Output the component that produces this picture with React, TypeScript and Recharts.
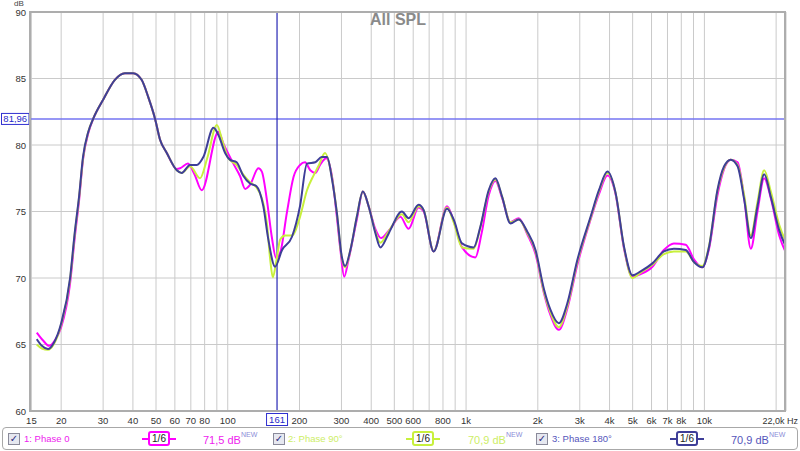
import React from "react";
import {
  CartesianGrid,
  Line,
  LineChart,
  ReferenceLine,
  XAxis,
  YAxis,
} from "recharts";

// [frequency Hz, SPL dB]
const phase0: [number, number][] = [
  [15.8, 65.9], [16.8, 65.3], [17.8, 64.9], [18.8, 65.3], [20, 66.3], [21.8, 69.6], [22.8, 73.0],
  [23.8, 75.9], [24.7, 78.9], [26, 80.9], [27.3, 82.0], [30, 83.4], [33.6, 84.9], [37, 85.4],
  [40.1, 85.4], [43.5, 84.9], [46.4, 83.6], [49.5, 82.0], [52, 80.4], [55.5, 79.4], [61.1, 78.2],
  [63.1, 78.25], [68.1, 78.6], [72.5, 77.8], [77.8, 76.6], [91.4, 81.0], [95.9, 80.1], [105.6, 78.6],
  [112.7, 77.65], [118.3, 76.7], [124, 77.0], [134.5, 78.25], [139, 78.0], [145.9, 75.9], [153, 73.1],
  [159.6, 71.5], [166, 71.9], [177, 74.9], [188.8, 77.6], [201, 78.5], [211, 78.7], [222, 78.1],
  [233, 77.9], [244, 78.5], [259, 79.0], [274, 77.6], [287, 74.6], [297, 72.1], [308, 70.1],
  [321, 71.35], [348, 74.4], [369, 76.5], [390, 75.4], [416, 73.7], [440, 73.0], [466, 73.4],
  [481, 73.7], [530, 74.6], [574, 73.7], [632, 75.3], [664, 75.0], [731, 72.0], [832, 75.4],
  [887, 74.3], [962, 72.3], [1094, 71.55], [1160, 73.3], [1244, 76.2], [1328, 77.3], [1417, 76.0],
  [1535, 74.2], [1664, 74.5], [1805, 73.3], [1956, 71.8], [2120, 68.9], [2261, 67.2], [2450, 66.1],
  [2660, 67.7], [2930, 71.0], [3330, 74.4], [3610, 76.3], [3920, 77.7], [4240, 76.3], [4600, 72.2],
  [4990, 70.1], [5400, 70.3], [6050, 70.85], [6760, 72.1], [7450, 72.6], [8350, 72.5], [9040, 71.4],
  [9810, 70.8], [10460, 72.2], [11340, 76.2], [12100, 78.2], [12900, 78.9], [13780, 78.7],
  [14690, 76.0], [15660, 72.2], [16700, 75.0], [17820, 77.5], [19000, 76.0], [20600, 73.2],
  [21980, 71.9],
];

const phase90: [number, number][] = [
  [15.8, 65.0], [16.6, 64.7], [17.6, 64.6], [18.6, 65.0], [20, 66.5], [21.8, 69.9], [22.8, 73.3],
  [23.8, 76.1], [24.7, 79.0], [26, 81.0], [27.3, 82.0], [30, 83.4], [33.6, 84.9], [37, 85.4],
  [40.1, 85.4], [43.5, 84.9], [46.4, 83.6], [49.5, 82.0], [52, 80.4], [55.5, 79.4], [61.1, 78.1],
  [64.1, 77.9], [69.5, 78.4], [76.5, 77.5], [82, 79.0], [90, 81.5], [95, 80.3], [100.6, 79.0],
  [109, 78.5], [116, 77.8], [124, 77.2], [132, 76.8], [141, 75.6], [146, 74.1], [150.5, 71.5],
  [154.6, 70.05], [160, 71.3], [166, 72.9], [174, 73.2], [186, 73.2], [201, 74.6], [215, 76.6],
  [229, 77.7], [240, 78.4], [256, 79.4], [274, 77.5], [287, 74.9], [301, 71.5], [311, 70.8],
  [327, 72.1], [348, 74.6], [369, 76.5], [390, 75.4], [416, 73.5], [437, 72.65], [466, 73.3],
  [481, 73.7], [538, 74.8], [574, 74.2], [632, 75.4], [664, 75.1], [731, 72.0], [832, 75.3],
  [887, 74.2], [962, 72.3], [1076, 72.2], [1148, 73.8], [1244, 76.5], [1328, 77.4], [1417, 76.1],
  [1535, 74.2], [1664, 74.4], [1805, 73.4], [1956, 72.0], [2120, 69.0], [2261, 67.4], [2450, 66.3],
  [2660, 67.9], [2930, 71.2], [3330, 74.5], [3610, 76.5], [3920, 77.9], [4240, 76.4], [4600, 72.3],
  [4990, 70.0], [5400, 70.4], [6050, 71.0], [6760, 71.8], [7450, 72.0], [8350, 72.0], [9040, 71.2],
  [9810, 70.9], [10460, 72.4], [11340, 76.5], [12100, 78.3], [12900, 78.9], [13780, 78.5],
  [14690, 76.2], [15660, 73.2], [16700, 75.7], [17820, 78.1], [19000, 76.5], [20600, 74.0],
  [21980, 72.7],
];

const phase180: [number, number][] = [
  [15.8, 65.4], [16.6, 64.9], [17.6, 64.66], [18.6, 65.1], [20, 66.6], [21.8, 70.0], [22.8, 73.4],
  [23.8, 76.2], [24.7, 79.1], [26, 81.0], [27.3, 82.0], [30, 83.4], [33.6, 84.9], [37, 85.4],
  [40.1, 85.4], [43.5, 84.9], [46.4, 83.6], [49.5, 82.0], [52, 80.4], [55.5, 79.4], [61.1, 78.1],
  [64.1, 77.9], [69.5, 78.5], [74.1, 78.5], [79, 79.1], [87.1, 81.3], [91.4, 80.75], [97.5, 79.4],
  [102, 78.9], [109, 78.7], [116, 77.7], [124, 77.1], [132, 76.9], [141, 75.4], [148, 72.9],
  [158, 70.85], [169, 72.1], [186, 73.1], [201, 75.4], [215, 78.6], [233, 78.7], [248, 79.1],
  [261, 79.1], [274, 77.4], [287, 74.9], [301, 71.6], [311, 70.9], [327, 72.1], [348, 74.6],
  [369, 76.5], [390, 75.4], [416, 73.4], [437, 72.3], [466, 73.1], [481, 73.6], [538, 75.0],
  [574, 74.5], [632, 75.5], [664, 75.1], [731, 72.0], [832, 75.2], [887, 74.4], [962, 72.6],
  [1076, 72.3], [1148, 73.85], [1244, 76.6], [1328, 77.5], [1417, 76.1], [1535, 74.1], [1664, 74.4],
  [1805, 73.5], [1956, 72.1], [2120, 69.2], [2261, 67.6], [2450, 66.6], [2660, 68.1], [2930, 71.35],
  [3330, 74.6], [3610, 76.6], [3920, 78.0], [4240, 76.4], [4600, 72.35], [4990, 70.2], [5400, 70.5],
  [6050, 71.1], [6760, 72.0], [7450, 72.2], [8350, 72.1], [9040, 71.2], [9810, 70.8], [10460, 72.35],
  [11340, 76.6], [12100, 78.4], [12900, 78.9], [13780, 78.4], [14690, 75.9], [15660, 73.0],
  [16700, 75.4], [17820, 77.8], [19000, 76.1], [20600, 73.6], [21980, 72.35],
];

const gridFreqs = [
  15, 20, 30, 40, 50, 60, 70, 80, 90, 100, 200, 300, 400, 500, 600, 700, 800, 900, 1000, 2000,
  3000, 4000, 5000, 6000, 7000, 8000, 9000, 10000, 20000, 22000,
];
const freqLabels: Record<number, string> = {
  15: "15", 20: "20", 30: "30", 40: "40", 50: "50", 60: "60", 70: "70", 80: "80", 100: "100",
  200: "200", 300: "300", 400: "400", 500: "500", 600: "600", 800: "800", 1000: "1k", 2000: "2k",
  3000: "3k", 4000: "4k", 5000: "5k", 6000: "6k", 7000: "7k", 8000: "8k", 10000: "10k",
  22000: "22,0k Hz",
};
const dbTicks = [60, 65, 70, 75, 80, 85, 90];

const cursorFreq = 161;
const cursorDb = 81.96;

const series = [
  { name: "1: Phase 0", data: phase0, color: "#ff00ff", text: "#ee22ee", level: "71,5 dB" },
  { name: "2: Phase 90°", data: phase90, color: "#c8f03c", text: "#cdee66", level: "70,9 dB" },
  { name: "3: Phase 180°", data: phase180, color: "#3e3e98", text: "#5555bb", level: "70,9 dB" },
];

const FONT = "'Liberation Sans', Arial, sans-serif";

const toRows = (pts: [number, number][]) => pts.map(([f, db]) => ({ f, db }));

const FreqTick = (props: any) => {
  const { x, y, payload } = props;
  const label = freqLabels[payload.value];
  if (!label) return null;
  const isLast = payload.value === 22000;
  return (
    <text
      x={isLast ? 798 : x}
      y={y + 12.5}
      textAnchor={isLast ? "end" : "middle"}
      fontSize={isLast ? 9 : 9.5}
      fontFamily={FONT}
      fill="#333"
    >
      {label}
    </text>
  );
};

const DbTick = (props: any) => {
  const { x, y, payload } = props;
  return (
    <text x={x - 4} y={y + 3.5} textAnchor="end" fontSize={9.5} fontFamily={FONT} fill="#333">
      {payload.value}
    </text>
  );
};

const DbCursorLabel = (props: any) => {
  const vb = props.viewBox || {};
  const x0 = vb.x - 28.5;
  return (
    <g>
      <rect x={x0} y={vb.y - 5.5} width={27.5} height={11} fill="#fff" stroke="#3030d0" strokeWidth={1} />
      <text x={x0 + 13.75} y={vb.y + 3.5} textAnchor="middle" fontSize={9.5} fontFamily={FONT} fill="#2828c8">
        81,96
      </text>
    </g>
  );
};

const FreqCursorLabel = (props: any) => {
  const vb = props.viewBox || {};
  const yb = vb.y + vb.height + 2.5;
  return (
    <g>
      <rect x={vb.x - 10.5} y={yb} width={21} height={12} fill="#fff" stroke="#3030d0" strokeWidth={1} />
      <text x={vb.x} y={yb + 9.5} textAnchor="middle" fontSize={9.5} fontFamily={FONT} fill="#2828c8">
        161
      </text>
    </g>
  );
};

const Check = ({ left }: { left: number }) => (
  <div
    style={{
      position: "absolute",
      left,
      top: 433,
      width: 10,
      height: 10,
      border: "1px solid #8a8a9a",
      background: "#e6e8f0",
      color: "#2a2a80",
      fontSize: 10,
      lineHeight: "10px",
      textAlign: "center",
      fontFamily: "'DejaVu Sans', sans-serif",
    }}
  >
    ✓
  </div>
);

const Smoothing = ({ left, color }: { left: number; color: string }) => (
  <div style={{ position: "absolute", left, top: 431, width: 34, height: 15 }}>
    <div style={{ position: "absolute", left: 0, top: 6.5, width: 34, height: 2, background: color }} />
    <div
      style={{
        position: "absolute",
        left: 6,
        top: 0,
        width: 18,
        height: 11,
        border: `2px solid ${color}`,
        borderRadius: 3,
        background: "#fff",
        fontFamily: FONT,
        fontSize: 10,
        lineHeight: "11px",
        textAlign: "center",
        color: "#222",
      }}
    >
      1/6
    </div>
  </div>
);

const Level = ({ left, color, text }: { left: number; color: string; text: string }) => (
  <div style={{ position: "absolute", left, top: 434, fontFamily: FONT, fontSize: 11, color, whiteSpace: "nowrap" }}>
    {text}
    <span style={{ fontSize: 7, verticalAlign: "top", position: "relative", top: -3, color: "#8c8cd8" }}>NEW</span>
  </div>
);

const legendPos = [
  { check: 8, label: 24, smooth: 142, level: 203 },
  { check: 273, label: 288, smooth: 406, level: 468 },
  { check: 536, label: 552, smooth: 670, level: 731 },
];

export default function App() {
  return (
    <div style={{ position: "absolute", left: 0, top: 0, width: 800, height: 451, background: "#fff", overflow: "hidden" }}>
      <LineChart width={800} height={451} margin={{ top: 12, right: 14, left: 0, bottom: 0 }}>
        <CartesianGrid stroke="#cacaca" strokeWidth={1} />
        <XAxis
          dataKey="f"
          type="number"
          scale="log"
          domain={[14.8, 22000]}
          ticks={gridFreqs}
          allowDataOverflow
          axisLine={false}
          tickLine={false}
          tickSize={0}
          tickMargin={0}
          height={40}
          interval={0}
          tick={<FreqTick />}
        />
        <YAxis
          type="number"
          domain={[60, 90]}
          ticks={dbTicks}
          allowDataOverflow
          axisLine={false}
          tickLine={false}
          tickSize={0}
          tickMargin={0}
          width={30}
          interval={0}
          tick={<DbTick />}
        />
        <ReferenceLine y={cursorDb} stroke="#7474f2" strokeWidth={1.6} label={<DbCursorLabel />} />
        <ReferenceLine x={cursorFreq} stroke="#2626b4" strokeWidth={1.2} label={<FreqCursorLabel />} />
        {series.map((s) => (
          <Line
            key={s.name}
            data={toRows(s.data)}
            dataKey="db"
            type="monotone"
            stroke={s.color}
            strokeWidth={2}
            dot={false}
            isAnimationActive={false}
          />
        ))}
      </LineChart>

      <div style={{ position: "absolute", left: 29, top: 11, width: 753, height: 397, border: "2px solid #adadad", pointerEvents: "none" }} />
      <div style={{ position: "absolute", left: 14, top: 0, fontFamily: FONT, fontSize: 8, lineHeight: "8px", color: "#444" }}>dB</div>
      <div style={{ position: "absolute", left: 370, top: 11, fontFamily: FONT, fontSize: 16, fontWeight: "bold", color: "#8a8a8a" }}>
        All SPL
      </div>

      <div style={{ position: "absolute", left: 2, top: 427, width: 794, height: 21, border: "1px solid #a8a8a8", borderRadius: 4 }} />
      {series.map((s, i) => (
        <React.Fragment key={s.name}>
          <Check left={legendPos[i].check} />
          <div style={{ position: "absolute", left: legendPos[i].label, top: 433, fontFamily: FONT, fontSize: 9.5, color: s.text, whiteSpace: "nowrap" }}>
            {s.name}
          </div>
          <Smoothing left={legendPos[i].smooth} color={s.color} />
          <Level left={legendPos[i].level} color={s.text} text={s.level} />
        </React.Fragment>
      ))}
    </div>
  );
}
